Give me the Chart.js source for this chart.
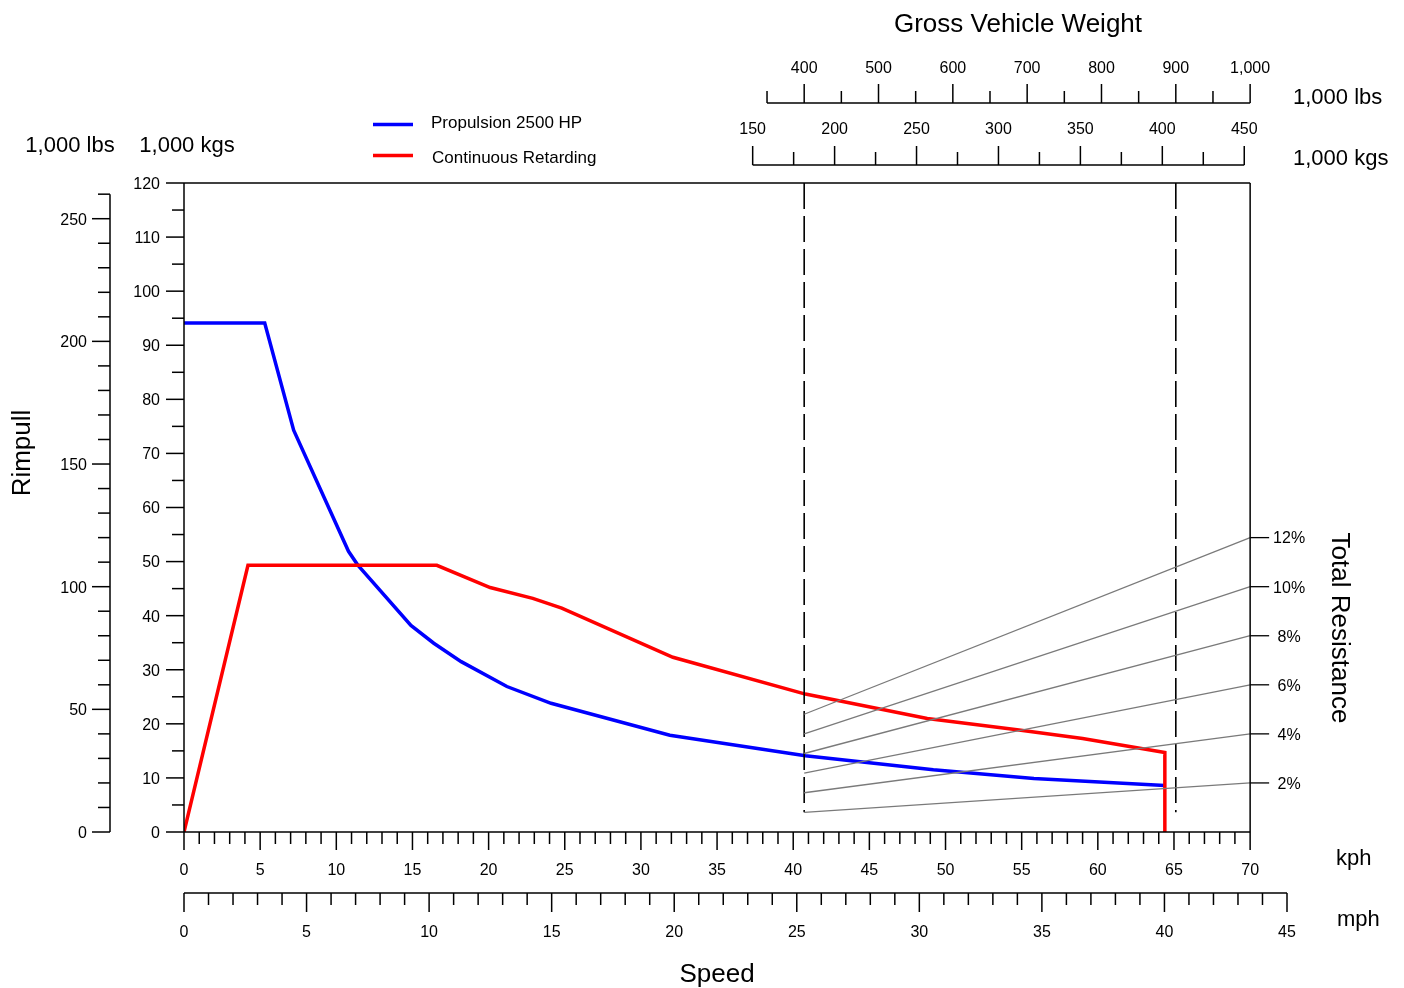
<!DOCTYPE html>
<html>
<head>
<meta charset="utf-8">
<title>Rimpull / Speed / Gradeability</title>
<script src="https://cdn.jsdelivr.net/npm/chart.js@4.4.1/dist/chart.umd.min.js"></script>
<style>
  html, body { margin: 0; padding: 0; background: #fff; }
  canvas { display: block; }
</style>
</head>
<body>
<canvas id="rimpullChart" width="1404" height="988"></canvas>
<script>
// curves: speed in kph, rimpull in 1,000 kgs
const propulsionKph = [0, 5.3, 7.2, 10.8, 11.4, 14.9, 16.4, 18.2, 21.2, 24.1, 31.9, 40.8, 49.2, 55.8, 64.4];
const propulsionKgs = [94.1, 94.1, 74.3, 51.9, 49.4, 38.2, 34.9, 31.5, 26.9, 23.8, 17.9, 14.1, 11.5, 9.9, 8.6];
const retardKph = [0, 4.2, 16.6, 20.1, 22.9, 24.8, 32.1, 40.8, 48.8, 54.7, 59.0, 64.4, 64.4];
const retardKgs = [0, 49.3, 49.3, 45.2, 43.2, 41.4, 32.3, 25.5, 21.0, 18.9, 17.3, 14.7, 0];

// total resistance lines: GVW (1,000 lbs) at both ends, rimpull (1,000 lbs)
const gradeLabels = ['2%', '4%', '6%', '8%', '10%', '12%'];
const gvwEnds = [400, 1000];
const resistanceAtStart = [8, 16, 24, 32, 40, 48];
const resistanceAtEnd = [20, 40, 60, 80, 100, 120];

// dashed GVW markers (1,000 lbs) and where they stop (1,000 lbs rimpull)
const gvwMarks = [400, 900];
const markBottom = 8;

// tick labels
const kphLabels = [0, 5, 10, 15, 20, 25, 30, 35, 40, 45, 50, 55, 60, 65, 70];
const mphLabels = [0, 5, 10, 15, 20, 25, 30, 35, 40, 45];
const kgsLabels = [0, 10, 20, 30, 40, 50, 60, 70, 80, 90, 100, 110, 120];
const lbsLabels = [0, 50, 100, 150, 200, 250];
const gvwLbsLabels = [400, 500, 600, 700, 800, 900, 1000];
const gvwKgsLabels = [150, 200, 250, 300, 350, 400, 450];

const LB_PER_KG = 2.20462;
const KPH_MAX = 45 * 1.609344;          // mph axis runs to 45
const LBS_MAX = 120 * LB_PER_KG;
// GVW axis sits over the right part of the plot: 350 at 38.28 kph, 1000 at 70 kph
const gvwSlope = (1000 - 350) / (70 - 38.28);
const GVW_MIN = 350 - 38.28 * gvwSlope;
const GVW_MAX = 1000 + (KPH_MAX - 70) * gvwSlope;

const FONT = '"Liberation Sans", Arial, Helvetica, sans-serif';

function pts(xs, ys) {
  return xs.map((x, i) => ({ x: x, y: ys[i] }));
}

const datasets = [];
gradeLabels.forEach((g, i) => {
  datasets.push({
    label: g,
    data: [{ x: gvwEnds[0], y: resistanceAtStart[i] }, { x: gvwEnds[1], y: resistanceAtEnd[i] }],
    xAxisID: 'gvwLbs', yAxisID: 'lbs',
    borderColor: '#7a7a7a', borderWidth: 1.3, pointRadius: 0
  });
});
gvwMarks.forEach(m => {
  datasets.push({
    label: 'GVW ' + m,
    data: [{ x: m, y: LBS_MAX }, { x: m, y: markBottom }],
    xAxisID: 'gvwLbs', yAxisID: 'lbs',
    borderColor: '#000', borderWidth: 1.6, borderDash: [26, 7], pointRadius: 0
  });
});
datasets.push({
  label: 'Continuous Retarding',
  data: pts(retardKph, retardKgs),
  xAxisID: 'x', yAxisID: 'y',
  borderColor: '#ff0000', borderWidth: 3.5, pointRadius: 0
});
datasets.push({
  label: 'Propulsion 2500 HP',
  data: pts(propulsionKph, propulsionKgs),
  xAxisID: 'x', yAxisID: 'y',
  borderColor: '#0000ff', borderWidth: 3.5, pointRadius: 0
});

function fmt(n) {
  return n.toLocaleString('en-US');
}

const axesPlugin = {
  id: 'rimpullAxes',
  afterDraw(chart) {
    const { ctx, scales: s } = chart;
    const X0 = s.x.getPixelForValue(0);
    const X70 = s.x.getPixelForValue(70);
    const Y0 = s.y.getPixelForValue(0);
    const Ytop = s.y.getPixelForValue(120);

    ctx.save();
    ctx.strokeStyle = '#000';
    ctx.fillStyle = '#000';
    ctx.lineWidth = 1.5;
    ctx.lineCap = 'butt';

    const line = (x1, y1, x2, y2) => {
      ctx.beginPath(); ctx.moveTo(x1, y1); ctx.lineTo(x2, y2); ctx.stroke();
    };
    // canvas 'middle' sits a little high for these fonts, nudge down
    const text = (str, x, y, align, size) => {
      size = size || 16;
      ctx.font = size + 'px ' + FONT;
      ctx.textAlign = align || 'center';
      ctx.textBaseline = 'middle';
      ctx.fillText(str, x, y + size * 0.09);
    };

    // plot frame
    line(X0, Ytop, X70, Ytop);
    line(X0, Y0, X70, Y0);
    line(X0, Ytop, X0, Y0);
    line(X70, Ytop, X70, Y0);

    // left: 1,000 kgs
    for (let v = 0; v <= 120; v += 5) {
      const y = s.y.getPixelForValue(v);
      const major = kgsLabels.includes(v);
      line(X0 - (major ? 18 : 12), y, X0, y);
    }
    kgsLabels.forEach(v => text(String(v), X0 - 24, s.y.getPixelForValue(v), 'right'));

    // left outer: 1,000 lbs
    const LX = X0 - 74;
    line(LX, s.lbs.getPixelForValue(0), LX, s.lbs.getPixelForValue(260));
    for (let v = 0; v <= 260; v += 10) {
      const y = s.lbs.getPixelForValue(v);
      const major = lbsLabels.includes(v);
      line(LX - (major ? 18 : 12), y, LX, y);
    }
    lbsLabels.forEach(v => text(String(v), LX - 23, s.lbs.getPixelForValue(v), 'right'));

    // bottom: kph
    for (let v = 0; v <= 70; v += 1) {
      const x = s.x.getPixelForValue(v);
      const major = kphLabels.includes(v);
      line(x, Y0, x, Y0 + (major ? 18 : 12));
    }
    kphLabels.forEach(v => text(String(v), s.x.getPixelForValue(v), Y0 + 37));

    // bottom: mph
    const MY = Y0 + 61;
    line(s.mph.getPixelForValue(0), MY, s.mph.getPixelForValue(45), MY);
    for (let v = 0; v <= 45; v += 1) {
      const x = s.mph.getPixelForValue(v);
      const major = mphLabels.includes(v);
      line(x, MY, x, MY + (major ? 19 : 12));
    }
    mphLabels.forEach(v => text(String(v), s.mph.getPixelForValue(v), MY + 38));

    // top: GVW 1,000 lbs
    const GY = Ytop - 80;
    line(s.gvwLbs.getPixelForValue(350), GY, s.gvwLbs.getPixelForValue(1000), GY);
    for (let v = 350; v <= 1000; v += 50) {
      const x = s.gvwLbs.getPixelForValue(v);
      const major = gvwLbsLabels.includes(v);
      line(x, GY, x, GY - (major ? 19 : 12));
    }
    gvwLbsLabels.forEach(v => text(fmt(v), s.gvwLbs.getPixelForValue(v), GY - 36));

    // top: GVW 1,000 kgs
    const KY = Ytop - 18;
    line(s.gvwKgs.getPixelForValue(150), KY, s.gvwKgs.getPixelForValue(450), KY);
    for (let v = 150; v <= 450; v += 25) {
      const x = s.gvwKgs.getPixelForValue(v);
      const major = gvwKgsLabels.includes(v);
      line(x, KY, x, KY - (major ? 19 : 13));
    }
    gvwKgsLabels.forEach(v => text(String(v), s.gvwKgs.getPixelForValue(v), KY - 37));

    // right: total resistance grades
    ctx.lineWidth = 1.3;
    gradeLabels.forEach((g, i) => {
      const y = s.lbs.getPixelForValue(resistanceAtEnd[i]);
      line(X70, y, X70 + 19, y);
      text(g, X70 + 39, y);
    });

    // axis titles
    text('Gross Vehicle Weight', 1018, 22, 'center', 26);
    text('1,000 lbs', 1293, 96, 'left', 22);
    text('1,000 kgs', 1293, 157, 'left', 22);
    text('1,000 lbs', 70, 144, 'center', 22);
    text('1,000 kgs', 187, 144, 'center', 22);
    text('kph', 1336, 857, 'left', 22);
    text('mph', 1337, 918, 'left', 22);
    text('Speed', 717, 972, 'center', 26);

    ctx.save();
    ctx.translate(20, 453);
    ctx.rotate(-Math.PI / 2);
    text('Rimpull', 0, 0, 'center', 26);
    ctx.restore();

    ctx.save();
    ctx.translate(1342, 628);
    ctx.rotate(Math.PI / 2);
    text('Total Resistance', 0, 0, 'center', 26);
    ctx.restore();

    // legend
    ctx.lineWidth = 3.5;
    ctx.strokeStyle = '#0000ff';
    line(373, 124.5, 413, 124.5);
    ctx.strokeStyle = '#ff0000';
    line(373, 155.5, 413, 155.5);
    text('Propulsion 2500 HP', 431, 121.5, 'left', 17);
    text('Continuous Retarding', 432, 156.5, 'left', 17);

    ctx.restore();
  }
};

new Chart(document.getElementById('rimpullChart'), {
  type: 'line',
  data: { datasets: datasets },
  plugins: [axesPlugin],
  options: {
    responsive: false,
    animation: false,
    parsing: true,
    layout: { padding: { left: 184, right: 117, top: 183, bottom: 156 } },
    plugins: { legend: { display: false }, tooltip: { enabled: false }, title: { display: false } },
    elements: { line: { tension: 0, fill: false } },
    scales: {
      x: { type: 'linear', min: 0, max: KPH_MAX, display: false },
      y: { type: 'linear', min: 0, max: 120, display: false },
      mph: { type: 'linear', axis: 'x', position: 'bottom', min: 0, max: 45, display: false },
      lbs: { type: 'linear', axis: 'y', position: 'left', min: 0, max: LBS_MAX, display: false },
      gvwLbs: { type: 'linear', axis: 'x', position: 'top', min: GVW_MIN, max: GVW_MAX, display: false },
      gvwKgs: { type: 'linear', axis: 'x', position: 'top', min: GVW_MIN / LB_PER_KG, max: GVW_MAX / LB_PER_KG, display: false }
    }
  }
});
</script>
</body>
</html>
